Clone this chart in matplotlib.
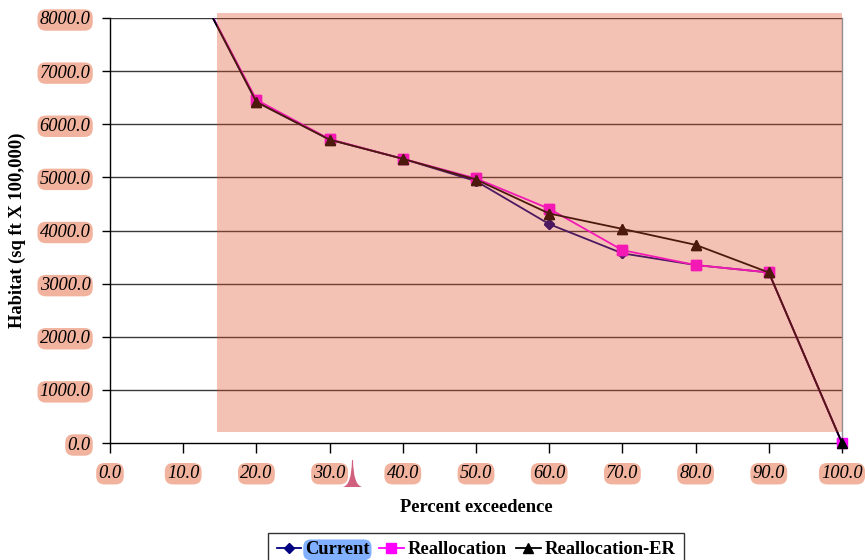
import matplotlib
matplotlib.use("Agg")
import matplotlib.pyplot as plt
from matplotlib.patches import Rectangle, PathPatch
from matplotlib.path import Path

# Exceedance curve data (habitat, sq ft x 100,000)
percent = [10, 20, 30, 40, 50, 60, 70, 80, 90, 100]
current = [9080, 6420, 5710, 5350, 4930, 4120, 3570, 3350, 3210, 0]
reallocation = [9080, 6460, 5720, 5350, 4980, 4410, 3630, 3350, 3210, 0]
reallocation_er = [9080, 6420, 5710, 5350, 4960, 4320, 4030, 3730, 3210, 0]

x_ticks = [0, 10, 20, 30, 40, 50, 60, 70, 80, 90, 100]
y_ticks = [0, 1000, 2000, 3000, 4000, 5000, 6000, 7000, 8000]

plt.rcParams['font.family'] = ['Liberation Serif', 'DejaVu Serif']

fig = plt.figure(figsize=(8.65, 5.6), dpi=100)
ax = fig.add_axes([110 / 865, 1 - 443 / 560, 732 / 865, 425 / 560])

y_max = 8000
ax.set_xlim(0, 100)
ax.set_ylim(0, y_max)

for y in y_ticks[1:]:
    ax.axhline(y, color='#3a3a3a', lw=1.0, zorder=1)

series = [
    ('Current', current, '#000080', 'D', 5, 3),
    ('Reallocation', reallocation, '#FF00FF', 's', 6.5, 3),
    ('Reallocation-ER', reallocation_er, '#000000', '^', 6.5, 4),
]
for name, vals, col, mk, ms, z in series:
    ax.plot(percent, vals, color=col, marker=mk, ms=ms, lw=1.3,
            label=name, zorder=z)
    # markers inside the value range stay whole at the plot edges
    inside = [(p, v) for p, v in zip(percent, vals) if v <= y_max]
    ax.plot([p for p, _ in inside], [v for _, v in inside], ls='none',
            color=col, marker=mk, ms=ms, zorder=z, clip_on=False)

# translucent highlight band laid over the curves
ax.add_patch(Rectangle((14.6, 207), 100 - 14.6, 8094 - 207,
                       facecolor='#E14A26', alpha=0.34, edgecolor='none',
                       zorder=5, clip_on=False))

ax.spines['left'].set_color('black')
ax.spines['bottom'].set_color('black')
ax.spines['right'].set_color('#909090')
ax.spines['top'].set_visible(False)
for s in ax.spines.values():
    s.set_linewidth(1.0)

ax.set_xticks(x_ticks)
ax.set_yticks(y_ticks)
ax.set_xticklabels([f'{v:.1f}' for v in x_ticks])
ax.set_yticklabels([f'{v:.1f}' for v in y_ticks])
ax.tick_params(axis='x', direction='out', length=7, width=1, pad=9,
               labelsize=13.3)
ax.tick_params(axis='y', direction='out', length=6, width=1, pad=8,
               labelsize=13.3)
for lab in ax.get_xticklabels() + ax.get_yticklabels():
    lab.set_fontstyle('italic')
    lab.set_bbox(dict(boxstyle='round,pad=0.12,rounding_size=0.45',
                      fc='#F2B39E', ec='none'))

ax.set_xlabel('Percent exceedence', fontsize=13.3, fontweight='bold',
              labelpad=12)
ax.set_ylabel('Habitat (sq ft X 100,000)', fontsize=13.3, fontweight='bold',
              labelpad=10)

# small pin marker under the axis near 30
cx = 352.5 / 865
yb = 1 - 487 / 560
yt = 1 - 460 / 560
hw = 10 / 865
pin = Path([(cx - hw, yb),
            (cx - 0.001, yb + 0.002), (cx - 0.0006, yt),
            (cx + 0.0006, yt),
            (cx + 0.001, yb + 0.002), (cx + hw, yb),
            (cx - hw, yb)],
           [Path.MOVETO, Path.CURVE3, Path.CURVE3, Path.LINETO,
            Path.CURVE3, Path.CURVE3, Path.CLOSEPOLY])
fig.patches.append(PathPatch(pin, transform=fig.transFigure,
                             fc='#D0607E', ec='none'))

handles, labels = ax.get_legend_handles_labels()
leg = fig.legend(handles, labels, loc='upper center',
                 bbox_to_anchor=(476 / 865, 1 - 533 / 560),
                 ncol=3, frameon=True, fancybox=False, edgecolor='black',
                 prop={'weight': 'bold', 'size': 13.3}, handlelength=1.35,
                 handletextpad=0.2, columnspacing=0.5, borderpad=0.45,
                 borderaxespad=0)
leg.get_frame().set_linewidth(1.0)
leg.get_texts()[0].set_bbox(dict(boxstyle='round,pad=0.1,rounding_size=0.4',
                                 fc='#80B0FF', ec='none'))

fig.savefig('out.png', dpi=100)
